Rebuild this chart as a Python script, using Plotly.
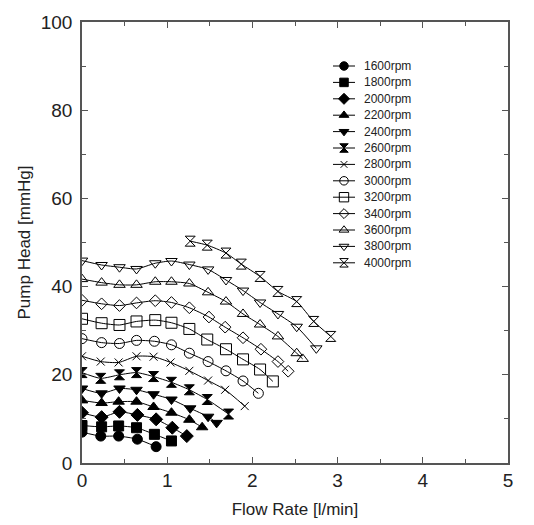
import plotly.graph_objects as go

labels = ["1600rpm", "1800rpm", "2000rpm", "2200rpm", "2400rpm", "2600rpm", "2800rpm",
          "3000rpm", "3200rpm", "3400rpm", "3600rpm", "3800rpm", "4000rpm"]

flow_1600 = [0, 0.22, 0.43, 0.65, 0.87]
head_1600 = [7.0, 6.1, 6.1, 5.4, 3.7]
flow_1800 = [0, 0.23, 0.43, 0.64, 0.85, 1.05]
head_1800 = [8.5, 8.2, 8.4, 8.0, 6.5, 5.0]
flow_2000 = [0, 0.23, 0.44, 0.65, 0.87, 1.06, 1.23]
head_2000 = [11.4, 10.4, 11.6, 10.9, 9.9, 8.0, 6.1]
flow_2200 = [0, 0.23, 0.43, 0.64, 0.84, 1.05, 1.26, 1.41]
head_2200 = [14.2, 13.6, 13.9, 13.9, 12.7, 11.4, 9.8, 8.1]
flow_2400 = [0, 0.23, 0.44, 0.64, 0.84, 1.05, 1.27, 1.48, 1.58]
head_2400 = [16.9, 15.8, 16.9, 16.6, 15.6, 14.4, 12.4, 10.5, 9.1]
flow_2600 = [0, 0.22, 0.44, 0.64, 0.84, 1.05, 1.26, 1.47, 1.72]
head_2600 = [20.5, 19.2, 20.0, 20.5, 19.6, 18.3, 16.6, 14.4, 11.1]
flow_2800 = [0, 0.22, 0.43, 0.64, 0.84, 1.04, 1.26, 1.48, 1.68, 1.91]
head_2800 = [24.2, 23.0, 22.8, 24.2, 24.1, 22.8, 20.9, 18.7, 16.6, 12.9]
flow_3000 = [0, 0.23, 0.44, 0.64, 0.85, 1.05, 1.26, 1.48, 1.69, 1.89, 2.07]
head_3000 = [28.2, 27.3, 27.1, 27.8, 27.6, 26.8, 24.9, 23.0, 20.9, 18.6, 15.8]
flow_3200 = [0, 0.23, 0.44, 0.64, 0.86, 1.05, 1.26, 1.47, 1.69, 1.89, 2.09, 2.24]
head_3200 = [32.7, 31.7, 31.3, 32.1, 32.4, 31.8, 30.4, 28.0, 25.8, 23.5, 21.2, 18.5]
flow_3400 = [0, 0.23, 0.44, 0.64, 0.86, 1.05, 1.26, 1.49, 1.68, 1.89, 2.10, 2.30, 2.42]
head_3400 = [36.9, 36.1, 35.7, 36.3, 36.8, 36.4, 35.2, 33.1, 30.8, 28.4, 25.8, 23.0, 20.8]
flow_3600 = [0, 0.23, 0.44, 0.64, 0.86, 1.05, 1.26, 1.48, 1.69, 1.89, 2.09, 2.30, 2.52, 2.59]
head_3600 = [41.7, 40.9, 40.4, 40.4, 41.1, 41.1, 40.7, 38.7, 36.6, 33.8, 31.4, 28.7, 24.9, 23.6]
flow_3800 = [0, 0.23, 0.44, 0.64, 0.86, 1.05, 1.26, 1.48, 1.69, 1.89, 2.09, 2.30, 2.52, 2.75]
head_3800 = [45.9, 44.9, 44.4, 44.0, 45.3, 45.8, 45.0, 43.9, 41.5, 39.1, 36.4, 33.8, 30.9, 26.0]
flow_4000 = [1.27, 1.47, 1.69, 1.87, 2.09, 2.30, 2.52, 2.72, 2.92]
head_4000 = [50.3, 49.4, 47.6, 45.1, 42.3, 38.9, 36.6, 32.1, 28.7]

flows = [flow_1600, flow_1800, flow_2000, flow_2200, flow_2400, flow_2600, flow_2800,
         flow_3000, flow_3200, flow_3400, flow_3600, flow_3800, flow_4000]
heads = [head_1600, head_1800, head_2000, head_2200, head_2400, head_2600, head_2800,
         head_3000, head_3200, head_3400, head_3600, head_3800, head_4000]
symbols = ["circle", "square", "diamond", "triangle-up", "triangle-down", "hourglass",
           "x-thin-open", "circle-open", "square-open", "diamond-open", "triangle-up-open",
           "triangle-down-open", "hourglass-open"]
sizes = [10, 10, 10, 10, 10, 10, 8, 10, 11, 9, 10, 10, 10]

x_ticks = [0, 1, 2, 3, 4, 5]
y_ticks = [0, 20, 40, 60, 80, 100]

font_family = "Liberation Sans, Arial, sans-serif"

fig = go.Figure()
for lab, fx, hy, sym, sz in zip(labels, flows, heads, symbols, sizes):
    fig.add_trace(go.Scatter(
        x=fx, y=hy, name=lab, mode="lines+markers", showlegend=False,
        line=dict(color="black", width=1, shape="spline", smoothing=0.6),
        marker=dict(symbol=sym, size=sz, color="black",
                    line=dict(color="black", width=1)),
    ))

# custom compact legend on an overlay axis measured in plot pixels
PW, PH = 426, 441
leg_x_line = [251, 273]
leg_x_mark = 262
leg_x_text = 280
leg_top = 397
leg_step = 16.4
for i, (lab, sym, sz) in enumerate(zip(labels, symbols, sizes)):
    yy = leg_top - i * leg_step
    fig.add_trace(go.Scatter(
        x=leg_x_line, y=[yy, yy], xaxis="x2", yaxis="y2", mode="lines",
        line=dict(color="black", width=1), showlegend=False, hoverinfo="skip"))
    fig.add_trace(go.Scatter(
        x=[leg_x_mark], y=[yy], xaxis="x2", yaxis="y2", mode="markers",
        marker=dict(symbol=sym, size=sz * 0.85, color="black",
                    line=dict(color="black", width=1)),
        showlegend=False, hoverinfo="skip"))
    fig.add_annotation(x=leg_x_text, y=yy, xref="x2", yref="y2", text=lab,
                       showarrow=False, xanchor="left", yanchor="middle",
                       font=dict(family=font_family, size=12, color="#222222"))

axis_common = dict(
    showline=True, linecolor="#555555", linewidth=1.5, mirror="allticks",
    ticks="inside", ticklen=6, tickcolor="#555555", tickwidth=1,
    showgrid=False, zeroline=False, automargin=False,
    tickfont=dict(family=font_family, size=19, color="#222222"),
    minor=dict(ticks="inside", ticklen=4, tickcolor="#555555"),
)
fig.update_xaxes(range=[0, 5], tickvals=x_ticks, ticktext=[str(v) for v in x_ticks],
                 title=dict(text="Flow Rate [l/min]", font=dict(family=font_family, size=17, color="#222222"), standoff=14),
                 ticklabelstandoff=-1, minor_dtick=0.5, **axis_common)
fig.update_yaxes(range=[0, 100], tickvals=y_ticks, ticktext=[str(v) for v in y_ticks],
                 title=dict(text="Pump Head [mmHg]", font=dict(family=font_family, size=17, color="#222222"), standoff=6),
                 ticklabelstandoff=4, minor_dtick=10, **axis_common)

# the page body adds an 8px offset, so the figure is sized to compensate
fig.update_layout(
    width=526, height=517,
    margin=dict(l=74, r=26, t=14, b=62),
    plot_bgcolor="white", paper_bgcolor="white",
    xaxis2=dict(overlaying="x", range=[0, PW], visible=False, fixedrange=True),
    yaxis2=dict(overlaying="y", range=[0, PH], visible=False, fixedrange=True),
    showlegend=False,
)

fig.write_html("out.html")
